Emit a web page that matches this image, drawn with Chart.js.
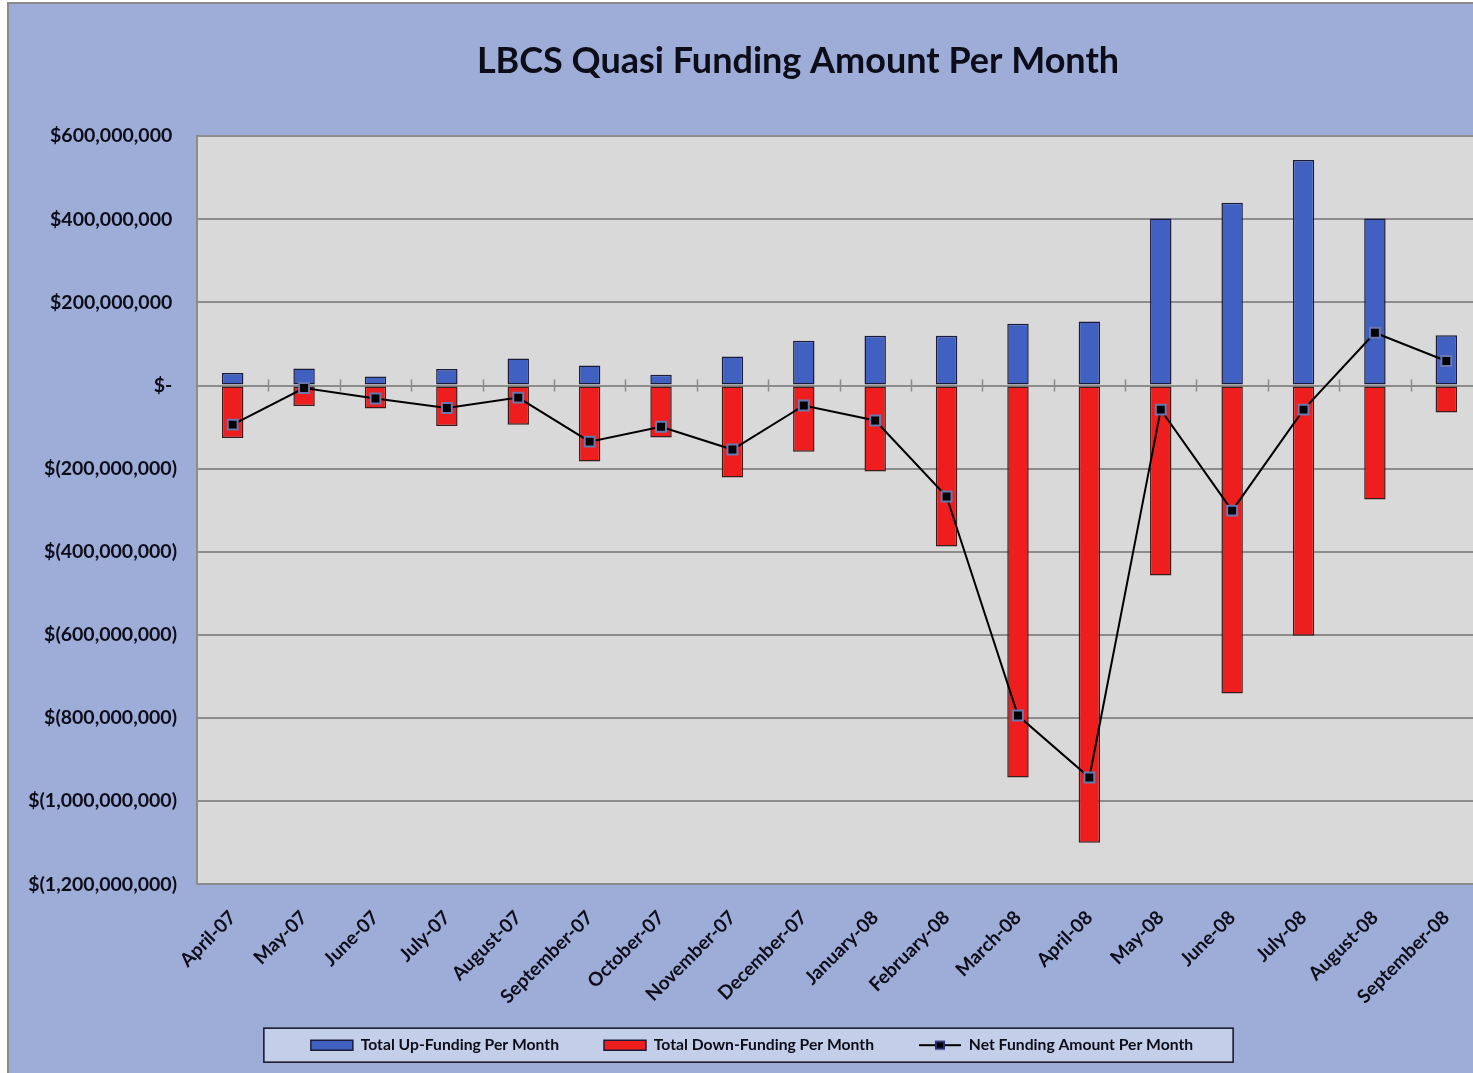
<!DOCTYPE html>
<html><head><meta charset="utf-8">
<script src="https://cdn.jsdelivr.net/npm/chart.js@4.4.0/dist/chart.umd.min.js"></script>
<style>
html,body{margin:0;padding:0;overflow:hidden;background:#fff;width:1473px;height:1073px;}
#wrap{position:absolute;left:0;top:0;width:1596px;height:1073px;}
</style></head><body>
<div id="wrap"><canvas id="c" width="1596" height="1073"></canvas></div>
<script>
const categories = ['April-07','May-07','June-07','July-07','August-07','September-07','October-07','November-07','December-07','January-08','February-08','March-08','April-08','May-08','June-08','July-08','August-08','September-08'];
const upFunding = [30e6, 41e6, 22e6, 40e6, 65e6, 48e6, 26e6, 70e6, 108e6, 120e6, 120e6, 149e6, 154e6, 402e6, 440e6, 543e6, 402e6, 121e6];
const downFunding = [-126e6, -49e6, -55e6, -97e6, -94e6, -183e6, -125e6, -221e6, -159e6, -207e6, -387e6, -943e6, -1100e6, -457e6, -741e6, -602e6, -274e6, -65e6];
const netFunding = [-94e6, -6e6, -31e6, -54e6, -29e6, -135e6, -99e6, -154e6, -48e6, -84e6, -267e6, -794e6, -943e6, -58e6, -301e6, -58e6, 127e6, 59e6];
const seriesNames = ['Total Up-Funding Per Month', 'Total Down-Funding Per Month', 'Net Funding Amount Per Month'];
const yMin = -1200000000, yMax = 600000000, yStep = 200000000;

const TXT = '#0d0d1a';
const FONT = 'Lato';
const LEGEND_PAD = 45;
const LEGEND_FONT = 15.7;

function fmt(v) {
  if (v === 0) return '$- ';
  if (v < 0) return '$(' + Math.abs(v).toLocaleString('en-US') + ')';
  return '$' + v.toLocaleString('en-US') + ' ';
}

const lineIcon = document.createElement('canvas');
lineIcon.width = 42; lineIcon.height = 12;
(function(){
  const g = lineIcon.getContext('2d');
  g.strokeStyle = '#000'; g.lineWidth = 2;
  g.beginPath(); g.moveTo(0, 6); g.lineTo(42, 6); g.stroke();
  g.fillStyle = '#2a2a70'; g.fillRect(16, 1.5, 10, 9);
  g.fillStyle = '#000'; g.fillRect(18, 3.5, 6, 5);
})();

const bgPlugin = {
  id: 'bg',
  afterLayout(chart) {
    const lg = chart.legend;
    if (lg) { lg.right -= 92; }
    // let the rotated category labels extend below the axis box without being clipped
    if (chart.scales.x) { chart.scales.x.bottom = chart.height; }
  },
  beforeDraw(chart) {
    const {ctx, width, height, chartArea: a} = chart;
    ctx.save();
    ctx.fillStyle = '#ffffff'; ctx.fillRect(0, 0, width, height);
    ctx.fillStyle = '#9dadd7'; ctx.fillRect(8, 3, width - 8, height - 3);
    ctx.strokeStyle = '#8a8a8a'; ctx.lineWidth = 2;
    ctx.beginPath(); ctx.moveTo(8, height); ctx.lineTo(8, 3); ctx.lineTo(width, 3); ctx.stroke();
    ctx.fillStyle = '#d9d9d9'; ctx.fillRect(a.left, a.top, a.right - a.left, a.bottom - a.top);
    const lg = chart.legend;
    if (lg && lg.legendHitBoxes && lg.legendHitBoxes.length) {
      let l = Infinity, r = -Infinity, t = Infinity, b = -Infinity;
      lg.legendHitBoxes.forEach(h => { l = Math.min(l, h.left); r = Math.max(r, h.left + h.width); t = Math.min(t, h.top); b = Math.max(b, h.top + h.height); });
      const cy = (t + b) / 2;
      const bx = l - 47, bw = (r + 40) - bx;
      ctx.fillStyle = '#c3cee9';
      ctx.fillRect(bx, cy - 17, bw, 34);
      ctx.strokeStyle = '#111122'; ctx.lineWidth = 1.5;
      ctx.strokeRect(bx, cy - 17, bw, 34);
    }
    ctx.restore();
  },
  beforeDatasetsDraw(chart) {
    const {ctx} = chart;
    const x = chart.scales.x, y = chart.scales.y;
    const y0 = y.getPixelForValue(0);
    ctx.save();
    ctx.strokeStyle = '#8c8c8c'; ctx.lineWidth = 1.5;
    ctx.beginPath();
    for (let i = 0; i < categories.length; i++) {
      const a = x.getPixelForValue(i), b = (i + 1 < categories.length) ? x.getPixelForValue(i + 1) : a + (a - x.getPixelForValue(i - 1));
      const px = Math.round((a + b) / 2) + 0.5;
      ctx.moveTo(px, y0 - 6); ctx.lineTo(px, y0 + 6);
    }
    ctx.stroke();
    ctx.restore();
  }
};

new Chart(document.getElementById('c'), {
  data: {
    labels: categories,
    datasets: [
      { type: 'bar', label: seriesNames[0], data: upFunding, backgroundColor: '#4061c1', borderColor: '#1c1c3a', borderWidth: 1.5, borderSkipped: false, grouped: false, barPercentage: 0.3, categoryPercentage: 1, order: 2 },
      { type: 'bar', label: seriesNames[1], data: downFunding, backgroundColor: '#ee1e1e', borderColor: '#3a1c1c', borderWidth: 1.5, borderSkipped: false, grouped: false, barPercentage: 0.3, categoryPercentage: 1, order: 2 },
      { type: 'line', label: seriesNames[2], data: netFunding, borderColor: '#000', borderWidth: 2, tension: 0, pointStyle: 'rect', pointRadius: 7, pointHoverRadius: 7, pointBackgroundColor: '#000', pointBorderColor: '#6a78b0', pointBorderWidth: 2, order: 1 }
    ]
  },
  options: {
    responsive: false,
    animation: false,
    events: [],
    layout: { padding: { left: 0, right: 0, top: 0, bottom: 10 } },
    plugins: {
      tooltip: { enabled: false },
      title: {
        display: true,
        text: 'LBCS Quasi Funding Amount Per Month',
        color: TXT,
        font: { family: FONT, size: 36, weight: 'bold' },
        padding: { top: 40, bottom: 53 }
      },
      legend: {
        position: 'bottom',
        labels: {
          color: TXT,
          font: { family: FONT, size: LEGEND_FONT, weight: 'bold' },
          usePointStyle: true,
          pointStyleWidth: 42,
          boxHeight: 10,
          padding: LEGEND_PAD,
          generateLabels: chart => {
            const items = Chart.defaults.plugins.legend.labels.generateLabels(chart);
            items.sort((a, b) => a.datasetIndex - b.datasetIndex);
            items.forEach(it => {
              if (it.datasetIndex === 2) { it.pointStyle = lineIcon; }
              else { it.pointStyle = 'rect'; it.lineWidth = 1.5; it.strokeStyle = '#1c1c3a'; }
            });
            return items;
          }
        }
      }
    },
    scales: {
      x: {
        grid: { display: false },
        border: { display: false },
        ticks: { color: TXT, font: { family: FONT, size: 19, weight: 'bold' }, minRotation: 45, maxRotation: 45, autoSkip: false, padding: 14 },
        afterFit: s => { s.height = 108; }
      },
      y: {
        min: yMin, max: yMax,
        ticks: { stepSize: yStep, color: TXT, font: { family: FONT, size: 19.5, weight: 'bold' }, padding: 20, callback: v => fmt(v) },
        grid: { color: '#8c8c8c', lineWidth: 2, drawTicks: false },
        border: { display: true, color: '#8c8c8c', width: 2 },
        afterFit: s => { s.width = 197; }
      },
      y2: {
        type: 'linear', position: 'right', display: true,
        grid: { display: false, drawOnChartArea: false },
        ticks: { display: false },
        border: { display: false },
        afterFit: s => { s.width = 114; }
      }
    }
  },
  plugins: [bgPlugin]
});
</script>
</body></html>
